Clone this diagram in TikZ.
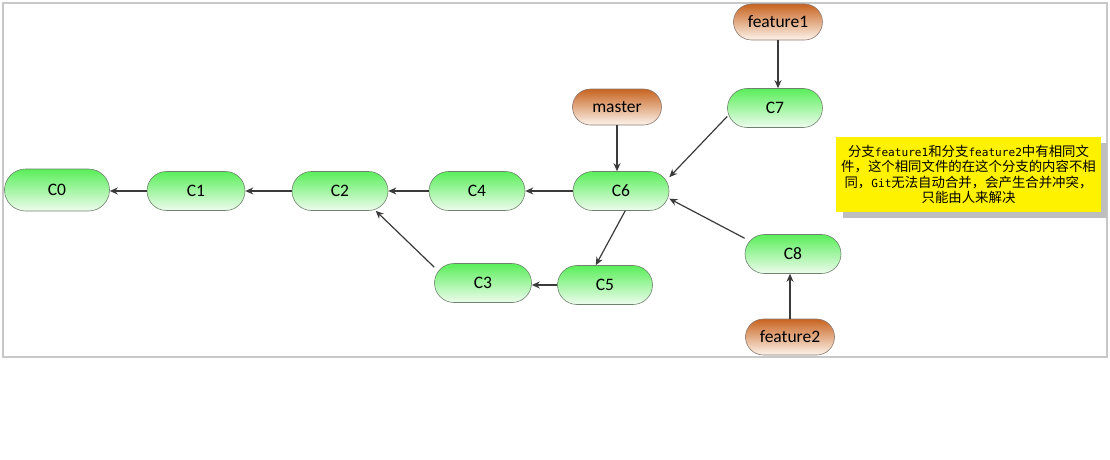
\documentclass[tikz,border=0pt]{standalone}
\usepackage{fontspec}
\setmainfont{Carlito}
\newfontfamily\cjk{Noto Sans CJK SC}
\newfontfamily\monof{DejaVu Sans Mono}
\newcommand\mlat[1]{{\monof\fontsize{11.1}{15.4}\selectfont #1}}
\usetikzlibrary{arrows.meta,shadings}
\definecolor{edgec}{HTML}{3A3A3A}
\definecolor{greentop}{RGB}{90,238,90}
\definecolor{greenbot}{RGB}{238,252,238}
\definecolor{orangetop}{RGB}{200,100,32}
\definecolor{orangebot}{RGB}{253,244,236}
\definecolor{framec}{RGB}{200,200,200}
\definecolor{shadowc}{RGB}{190,190,190}
\tikzset{
  commit/.style={draw={rgb,255:red,110;green,130;blue,110}, line width=0.6pt,
    rounded corners=19.5pt, minimum width=96pt, minimum height=39pt, inner sep=0pt,
    top color=greentop, bottom color=greenbot,
    font=\fontsize{17.5}{20}\selectfont},
  branchref/.style={draw={rgb,255:red,140;green,120;blue,110}, line width=0.6pt,
    rounded corners=18pt, minimum width=89pt, minimum height=36pt, inner sep=0pt,
    top color=orangetop, bottom color=orangebot,
    font=\fontsize{17.5}{20}\selectfont},
  link/.style={draw=edgec, line width=1.2pt, -{Stealth[length=8pt,width=7pt]}},
}
\begin{document}
\begin{tikzpicture}[x=1pt,y=-1pt]
\useasboundingbox (0,0) rectangle (1110,460);
\draw[framec, line width=1.6pt] (3,3) rectangle (1107,357);

\node[commit, minimum width=105pt, minimum height=42pt, rounded corners=21pt] (C0) at (57,190) {C0};
\node[commit, minimum width=98pt] (C1) at (196,191) {C1};
\node[commit] (C2) at (340,191) {C2};
\node[commit] (C4) at (477,191) {C4};
\node[commit] (C6) at (621,191) {C6};
\node[commit, minimum width=95pt] (C7) at (775,108) {C7};
\node[commit, minimum width=97pt] (C3) at (483,283) {C3};
\node[commit, minimum width=95pt] (C5) at (605,285) {C5};
\node[commit, minimum width=96pt] (C8) at (793,254) {C8};
\node[branchref] (feature1) at (778,22) {feature1};
\node[branchref] (master) at (617,107) {master};
\node[branchref] (feature2) at (790,337) {feature2};

\draw[link] (C1.west) -- (C1.west -| C0.east);
\draw[link] (C2.west) -- (C2.west -| C1.east);
\draw[link] (C4.west) -- (C4.west -| C2.east);
\draw[link] (C6.west) -- (C6.west -| C4.east);
\draw[link] (C5.west) -- (C5.west -| C3.east);
\draw[link] (C3.162) -- (C2.-29);
\draw[link] (C6.-78) -- (C5.115);
\draw[link] (C7.190) -- (C6.16);
\draw[link] (C8.162) -- (C6.-9);
\draw[link] (master.south) -- (master.south |- C6.north);
\draw[link] (feature1.south) -- (feature1.south |- C7.north);
\draw[link] (feature2.north) -- (feature2.north |- C8.south);

\fill[shadowc] (843,143) rectangle (1107,218);
\node[fill=yellow, minimum width=265pt, minimum height=75pt, inner sep=0pt,
      align=center, font=\cjk\fontsize{13.4}{15.4}\selectfont] (note) at (968.5,174.5)
  {分支\mlat{feature1}和分支\mlat{feature2}中有相同文\\件，这个相同文件的在这个分支的内容不相\\同，\mlat{Git}无法自动合并，会产生合并冲突，\\只能由人来解决};
\end{tikzpicture}
\end{document}
